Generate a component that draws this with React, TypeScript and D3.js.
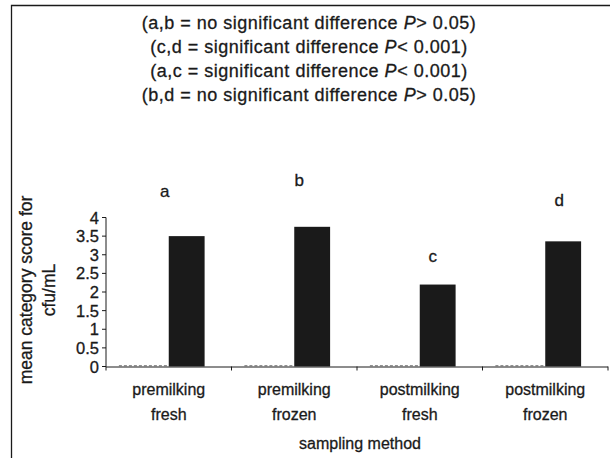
import React from "react";
import * as d3 from "d3";

const categories = [["premilking", "fresh"], ["premilking", "frozen"], ["postmilking", "fresh"], ["postmilking", "frozen"]];
const categoryKeys = categories.map((c) => c.join(" "));
const zeroSeries = [0, 0, 0, 0];
const meanScores = [3.5, 3.75, 2.2, 3.36];
const yTicks = [0, 0.5, 1, 1.5, 2, 2.5, 3, 3.5, 4];
const yTickLabels = ["0", "0.5", "1", "1.5", "2", "2.5", "3", "3.5", "4"];
const letters = ["a", "b", "c", "d"];
const letterY = [4.55, 4.85, 2.8, 4.3];
const letterDx = [-4, 5, 13, 14];
const noteLines: [string, string, string][] = [
  ["(a,b = no significant difference ", "P", "> 0.05)"],
  ["(c,d = significant difference ", "P", "< 0.001)"],
  ["(a,c = significant difference ", "P", "< 0.001)"],
  ["(b,d = no significant difference ", "P", "> 0.05)"],
];
const yTitle = ["mean category score for", "cfu/mL"];
const xTitle = "sampling method";

const W = 610, H = 458;
const FONT = "'Liberation Sans', Arial, sans-serif";

export default function App() {
  const x0 = d3.scaleBand().domain(categoryKeys).range([106, 608]).padding(0);
  const x1 = d3.scaleBand().domain(["zero", "value"]).range([0, x0.bandwidth()]).paddingInner(0).paddingOuter(0.75);
  const y = d3.scaleLinear().domain([0, 4]).range([366.5, 217.5]);
  const ink = "#1a1a1a";
  const ts = { stroke: ink, strokeWidth: 0.3, fill: ink } as const;
  return (
    <svg width={W} height={H} style={{ position: "absolute", left: 0, top: 0, background: "#fff" }} fontFamily={FONT}>
      <rect x={0} y={0} width={W} height={H} fill="#fff" />
      <path d={`M11.5,${H + 5} V5.5 H${W + 5}`} fill="none" stroke={ink} strokeWidth={1.3} />
      {noteLines.map((l, i) => (
        <text key={i} x={309} y={29 + i * 24} textAnchor="middle" fontSize={18} letterSpacing={0.5} {...ts}>
          {l[0]}
          <tspan fontStyle="italic">{l[1]}</tspan>
          {l[2]}
        </text>
      ))}
      {categoryKeys.map((k, i) => (
        <g key={k}>
          <line x1={x0(k)! + x1("zero")! - 14} x2={x0(k)! + x1("zero")! + x1.bandwidth()} y1={y(zeroSeries[i]) - 0.8} y2={y(zeroSeries[i]) - 0.8} stroke="#777" strokeWidth={1} strokeDasharray="3,2" />
          <rect x={x0(k)! + x1("value")!} y={y(meanScores[i])} width={x1.bandwidth()} height={y(0) - y(meanScores[i])} fill={ink} />
          <text x={x0(k)! + x0.bandwidth() / 2 + letterDx[i]} y={y(letterY[i])} textAnchor="middle" fontSize={17} {...ts}>{letters[i]}</text>
        </g>
      ))}
      <line x1={106} x2={106} y1={y(4)} y2={y(0)} stroke={ink} strokeWidth={1} />
      <line x1={106} x2={608} y1={y(0) + 0.5} y2={y(0) + 0.5} stroke={ink} strokeWidth={1} />
      {yTicks.map((t, i) => (
        <g key={t}>
          <line x1={102} x2={106} y1={y(t)} y2={y(t)} stroke={ink} />
          <text x={99} y={y(t) + 6} textAnchor="end" fontSize={16.5} {...ts}>{yTickLabels[i]}</text>
        </g>
      ))}
      {[...categoryKeys.map((k) => x0(k)!), 608].map((xv, i) => (
        <line key={i} x1={xv} x2={xv} y1={y(0)} y2={y(0) + 4} stroke={ink} />
      ))}
      {categories.map((c, i) => (
        <text key={i} x={x0(categoryKeys[i])! + x0.bandwidth() / 2} y={395} textAnchor="middle" fontSize={16} {...ts}>
          <tspan x={x0(categoryKeys[i])! + x0.bandwidth() / 2} dy={0}>{c[0]}</tspan>
          <tspan x={x0(categoryKeys[i])! + x0.bandwidth() / 2} dy={25}>{c[1]}</tspan>
        </text>
      ))}
      <text x={360} y={449} textAnchor="middle" fontSize={16} {...ts}>{xTitle}</text>
      <g transform="translate(0,290) rotate(-90)">
        <text x={0} y={32} textAnchor="middle" fontSize={17.5} {...ts}>{yTitle[0]}</text>
        <text x={0} y={55} textAnchor="middle" fontSize={17.5} {...ts}>{yTitle[1]}</text>
      </g>
    </svg>
  );
}
